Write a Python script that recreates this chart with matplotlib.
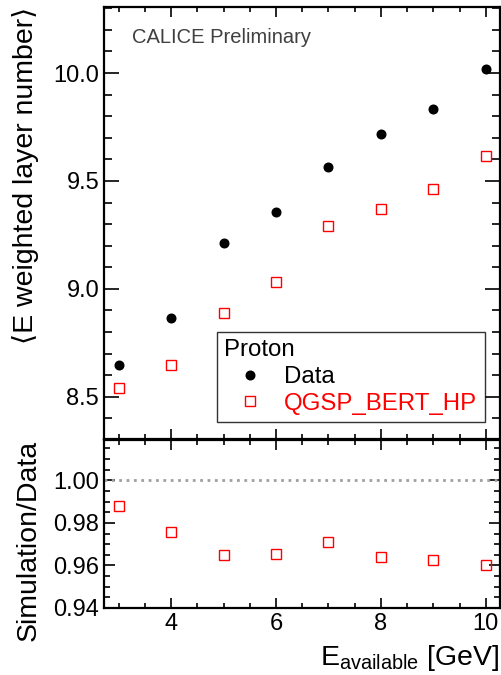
import matplotlib
matplotlib.use('Agg')
import matplotlib.pyplot as plt
from matplotlib.ticker import MultipleLocator

plt.rcParams['font.family'] = ['Liberation Sans', 'DejaVu Sans']
plt.rcParams['mathtext.fontset'] = 'custom'
plt.rcParams['mathtext.rm'] = 'Liberation Sans'
plt.rcParams['mathtext.it'] = 'Liberation Sans:italic'

# energies in GeV
energy = [3, 4, 5, 6, 7, 8, 9, 10]
# mean energy weighted layer number
data_vals = [8.645, 8.863, 9.212, 9.354, 9.566, 9.719, 9.832, 10.02]
sim_vals = [8.542, 8.645, 8.889, 9.031, 9.290, 9.372, 9.464, 9.617]
# simulation / data
ratio_vals = [0.988, 0.9755, 0.965, 0.9653, 0.9709, 0.964, 0.9626, 0.960]

fig = plt.figure(figsize=(5.01, 6.75), dpi=100)
ax1 = fig.add_axes([0.2076, 0.3496, 0.7904, 0.6400])
ax2 = fig.add_axes([0.2076, 0.0993, 0.7904, 0.2489])

ax1.plot(energy, data_vals, 'o', color='black', markersize=6.2, label='Data')
ax1.plot(energy, sim_vals, 's', color='red', markerfacecolor='none',
         markersize=6.6, markeredgewidth=1.0, label='QGSP_BERT_HP')
ax2.plot(energy, ratio_vals, 's', color='red', markerfacecolor='none',
         markersize=6.6, markeredgewidth=1.0)
ax2.axhline(1.0, color='#a0a0a0', linestyle=':', linewidth=2)

ax1.set_xlim(2.72, 10.27)
ax2.set_xlim(2.72, 10.27)
ax1.set_ylim(8.304, 10.306)
ax2.set_ylim(0.94, 1.019)

for ax in (ax1, ax2):
    ax.xaxis.set_major_locator(MultipleLocator(2))
    ax.xaxis.set_minor_locator(MultipleLocator(0.5))
    ax.tick_params(which='both', direction='in', top=True, right=True,
                   labelsize=17, width=1.2)
    ax.tick_params(which='major', axis='x', length=7)
    ax.tick_params(which='minor', axis='x', length=3.5)
    for s in ax.spines.values():
        s.set_linewidth(1.6)

ax1.yaxis.set_major_locator(MultipleLocator(0.5))
ax1.yaxis.set_minor_locator(MultipleLocator(0.1))
ax1.tick_params(which='major', axis='y', length=11)
ax1.tick_params(which='minor', axis='y', length=5.5)
ax1.tick_params(axis='x', labelbottom=False)
ax1.yaxis.set_major_formatter(matplotlib.ticker.FormatStrFormatter('%.1f'))

ax2.yaxis.set_major_locator(MultipleLocator(0.02))
ax2.yaxis.set_minor_locator(MultipleLocator(0.005))
ax2.tick_params(which='major', axis='y', length=8)
ax2.tick_params(which='minor', axis='y', length=4)
ax2.yaxis.set_major_formatter(matplotlib.ticker.FormatStrFormatter('%.2f'))

ax1.set_ylabel('\u27e8E weighted layer number\u27e9', fontsize=20.5, loc='top', labelpad=10)
ax2.set_ylabel('Simulation/Data', fontsize=20.5, loc='top', labelpad=8)
ax2.set_xlabel(r'E$_{\mathrm{available}}$ [GeV]', fontsize=20.5, loc='right', labelpad=6)

ax1.text(131.7 / 501, 1 - 37.7 / 675, 'CALICE Preliminary', transform=fig.transFigure,
         fontsize=14.5, color='#404040', va='center', ha='left')

leg = ax1.legend(title='Proton', loc='lower left', bbox_to_anchor=(217 / 501, 1 - 422 / 675),
                 bbox_transform=fig.transFigure, fontsize=17.3, title_fontsize=17.3,
                 alignment='left', frameon=True, fancybox=False, edgecolor='black',
                 handletextpad=0.33, labelspacing=0.2, borderpad=0.3, handlelength=2.17,
                 borderaxespad=0)
leg.get_frame().set_linewidth(1.0)
leg.get_texts()[1].set_color('red')

fig.savefig('out.png', dpi=100)
